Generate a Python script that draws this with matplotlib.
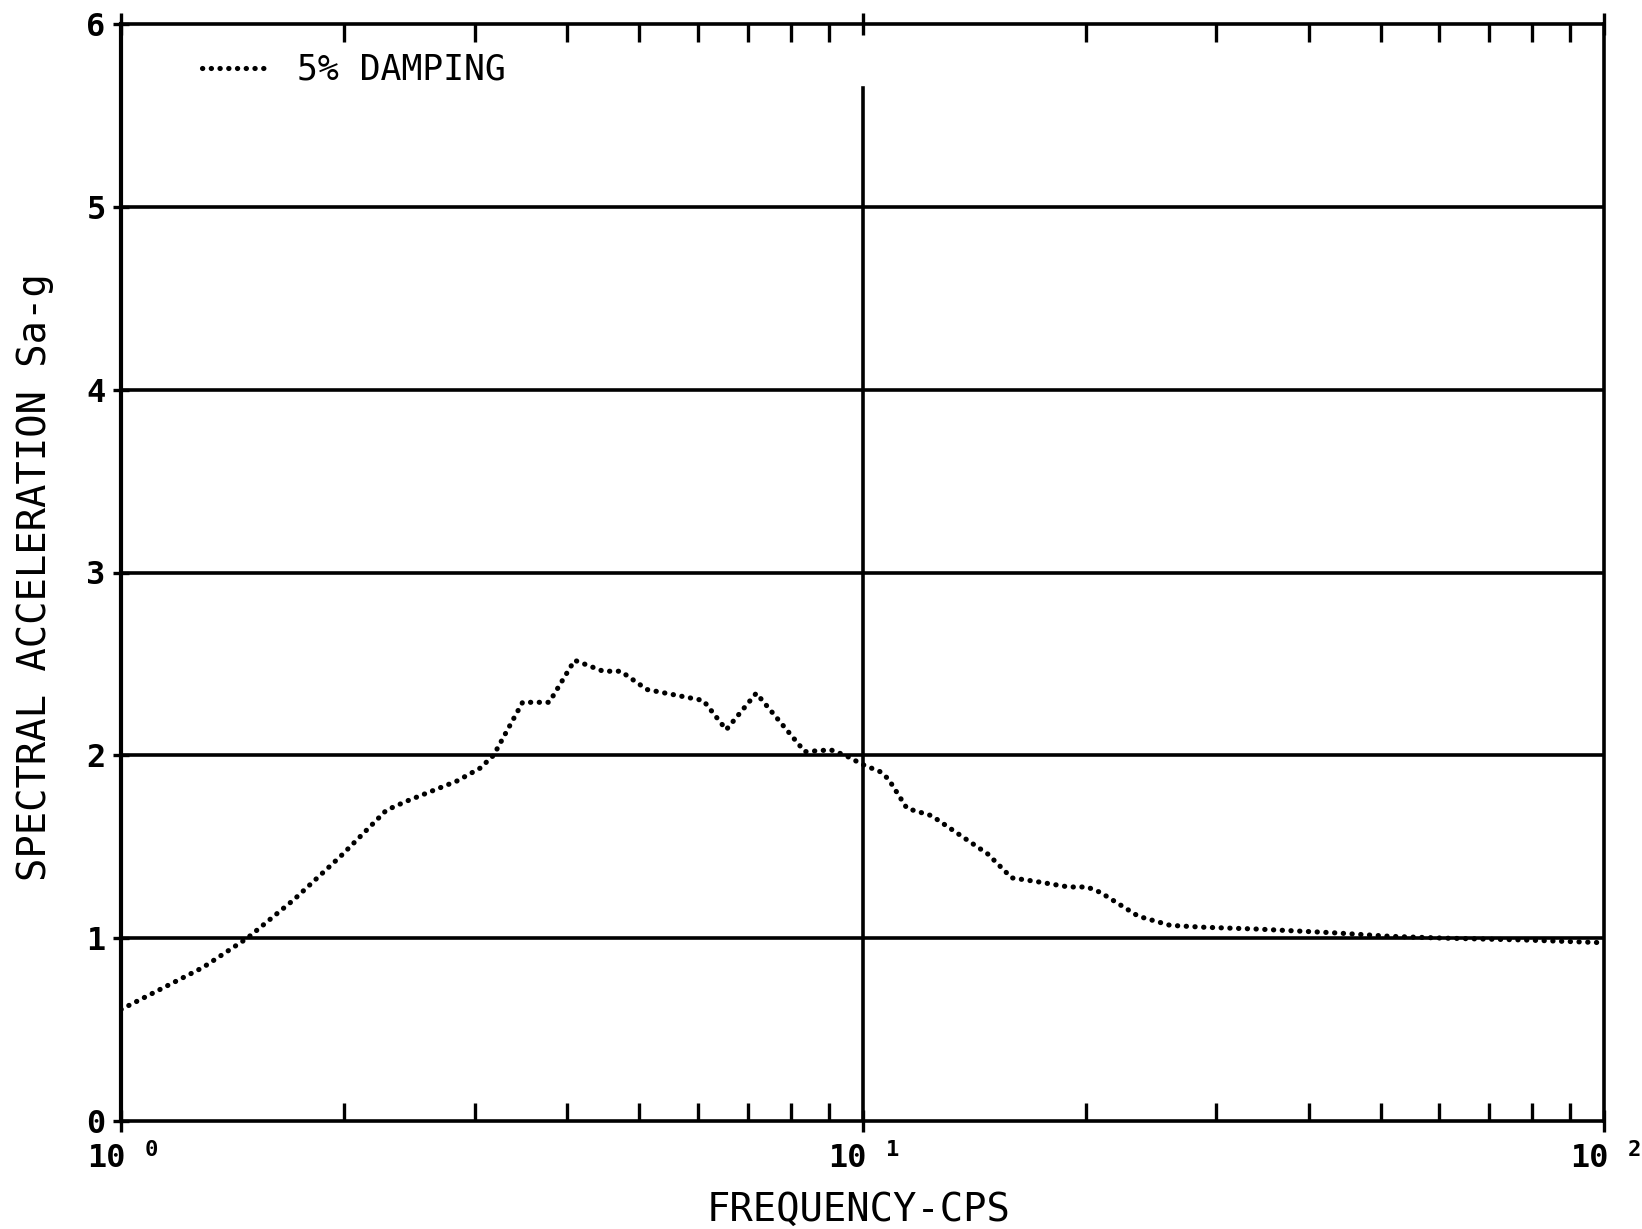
import matplotlib
matplotlib.use("Agg")
import matplotlib.pyplot as plt
from matplotlib.ticker import FixedLocator, LogLocator, NullFormatter

# Response spectrum, 5% damping
freq_cps = [1.00, 1.29, 1.48, 1.71, 1.98, 2.28, 2.43, 2.84, 3.05, 3.18,
            3.48, 3.78, 4.09, 4.47, 4.72, 5.12, 6.10, 6.55, 7.19, 8.36,
            9.06, 9.48, 10.0, 10.57, 10.84, 11.48, 12.39, 13.58, 14.76, 15.89,
            17.14, 18.97, 20.09, 20.94, 23.55, 26.0, 28.77, 33.96, 42.95, 51.52,
            60.95, 78.16, 100.0]
sa_g = [0.61, 0.84, 1.00, 1.21, 1.45, 1.70, 1.75, 1.86, 1.93, 2.00,
        2.29, 2.29, 2.52, 2.46, 2.46, 2.36, 2.30, 2.14, 2.34, 2.02,
        2.03, 2.00, 1.95, 1.91, 1.87, 1.71, 1.67, 1.56, 1.46, 1.33,
        1.31, 1.28, 1.28, 1.25, 1.12, 1.07, 1.06, 1.05, 1.03, 1.01,
        1.00, 0.99, 0.975]

y_ticks = [0, 1, 2, 3, 4, 5, 6]
grid_levels = [1, 2, 3, 4, 5]
decade_exponents = [0, 1, 2]
series_label = "5% DAMPING"
x_label = "FREQUENCY-CPS"
y_label = "SPECTRAL ACCELERATION Sa-g"

MONO = "DejaVu Sans Mono"
W, H = 1642, 1229

fig = plt.figure(figsize=(W / 100, H / 100), dpi=100)
fig.patch.set_facecolor("white")
ax = fig.add_axes([121 / W, 1 - 1121 / H, 1483 / W, 1097 / H])

ax.set_xscale("log")
ax.set_xlim(1, 100)
ax.set_ylim(0, 6)

# heavy horizontal rules and the decade line
for lvl in grid_levels:
    ax.axhline(lvl, color="black", lw=2.6, zorder=1)
ax.axvline(10, ymin=0, ymax=0.942, color="black", lw=2.6, zorder=1)

# spectrum curve drawn as a row of dots
ax.plot(freq_cps, sa_g, color="black", lw=3.7,
        linestyle=(0, (0.05, 1.65)), dash_capstyle="round",
        label=series_label, zorder=3)

# frame
for side, lw in (("left", 3.0), ("right", 2.6), ("top", 2.6), ("bottom", 2.6)):
    ax.spines[side].set_linewidth(lw)
    ax.spines[side].set_color("black")

# x ticks: minor marks inside on top and bottom, labels drawn separately
ax.xaxis.set_major_locator(FixedLocator([10.0 ** e for e in decade_exponents]))
ax.xaxis.set_minor_locator(LogLocator(base=10, subs=range(2, 10)))
ax.xaxis.set_major_formatter(NullFormatter())
ax.xaxis.set_minor_formatter(NullFormatter())
ax.tick_params(axis="x", which="major", direction="inout", length=16, width=2.4,
               top=True, bottom=True)
ax.tick_params(axis="x", which="minor", direction="in", length=13, width=2.4,
               top=True, bottom=True)

ax.set_yticks(y_ticks)
ax.set_yticklabels([str(v) for v in y_ticks], fontfamily=MONO,
                   fontsize=23, fontweight="bold")
ax.tick_params(axis="y", which="major", direction="inout", length=12, width=2.4,
               left=True, right=False, pad=5)

for e in decade_exponents:
    ax.annotate("10", xy=(10.0 ** e, 0), xycoords=("data", "axes fraction"),
                xytext=(3, -27), textcoords="offset points",
                ha="right", va="center", fontfamily=MONO, fontsize=23,
                fontweight="bold")
    ax.annotate(str(e), xy=(10.0 ** e, 0), xycoords=("data", "axes fraction"),
                xytext=(17, -21), textcoords="offset points",
                ha="left", va="center", fontfamily=MONO, fontsize=16,
                fontweight="bold")

ax.set_xlabel(x_label, fontfamily=MONO, fontsize=28, va="center")
ax.xaxis.set_label_coords((859 - 121) / 1483, (1121 - 1210) / 1097)
ax.set_ylabel(y_label, fontfamily=MONO, fontsize=28, va="center")
ax.yaxis.set_label_coords((35 - 121) / 1483, (1121 - 577) / 1097)

leg = ax.legend(loc="center left",
                bbox_to_anchor=((202 - 121) / 1483, (1121 - 70) / 1097),
                frameon=False, borderpad=0, borderaxespad=0,
                handlelength=1.93, handletextpad=0.8,
                prop={"family": MONO, "size": 25})

fig.savefig("out.png", dpi=100, facecolor="white")
